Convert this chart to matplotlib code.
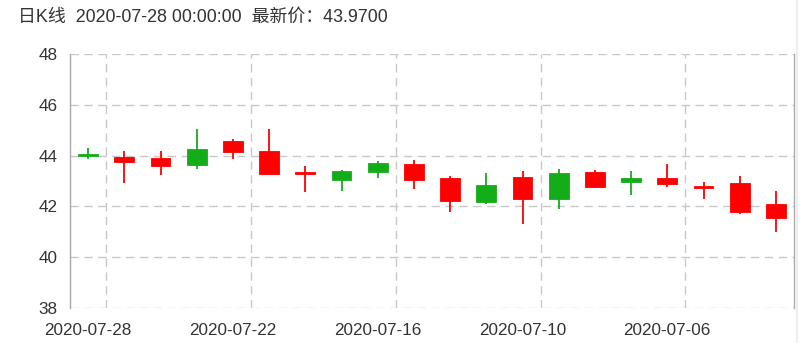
import matplotlib
matplotlib.use("Agg")
import matplotlib.pyplot as plt
from matplotlib.lines import Line2D

plt.rcParams['font.family'] = ['Liberation Sans', 'Noto Sans CJK SC', 'DejaVu Sans']

dates = ["2020-07-28", "2020-07-27", "2020-07-24", "2020-07-23", "2020-07-22",
         "2020-07-21", "2020-07-20", "2020-07-17", "2020-07-16", "2020-07-15",
         "2020-07-14", "2020-07-13", "2020-07-10", "2020-07-09", "2020-07-08",
         "2020-07-07", "2020-07-06", "2020-07-03", "2020-07-02", "2020-07-01"]
open_ = [44.04, 43.76, 43.61, 44.27, 44.14, 43.29, 43.27, 43.41, 43.71, 43.02,
         42.20, 42.85, 42.30, 43.32, 42.76, 43.12, 42.90, 42.72, 41.79, 41.53]
close = [43.97, 43.96, 43.89, 43.64, 44.59, 44.18, 43.36, 43.05, 43.36, 43.65,
         43.10, 42.16, 43.16, 42.30, 43.37, 42.97, 43.12, 42.77, 42.94, 42.09]
high = [44.30, 44.17, 44.20, 45.05, 44.65, 45.05, 43.61, 43.44, 43.78, 43.83,
        43.19, 43.32, 43.40, 43.48, 43.44, 43.41, 43.67, 42.97, 43.19, 42.59]
low = [43.85, 42.91, 43.23, 43.48, 43.87, 43.29, 42.56, 42.60, 43.11, 42.68,
       41.78, 42.11, 41.32, 41.91, 42.72, 42.44, 42.75, 42.30, 41.70, 41.01]
y_ticks = [38, 40, 42, 44, 46, 48]
title = "日K线  2020-07-28 00:00:00  最新价：43.9700"

UP = '#FF0000'
DOWN = '#14AD1A'

W, H = 808, 343
fig = plt.figure(figsize=(W / 100, H / 100), dpi=100)
left, right, top, bottom = 70, 794, 54, 308
ax = fig.add_axes([left / W, 1 - bottom / H, (right - left) / W, (bottom - top) / H])

n = len(dates)
xs = list(range(n))
colors = [UP if c >= o else DOWN for o, c in zip(open_, close)]
bot = [min(o, c) for o, c in zip(open_, close)]
hgt = [max(abs(c - o), 0.08) for o, c in zip(open_, close)]

ax.vlines(xs, low, high, colors=colors, linewidth=1.3, zorder=3)
ax.bar(xs, hgt, bottom=bot, width=0.55, color=colors, edgecolor=colors,
       linewidth=0.6, zorder=4)

ax.set_xlim(-0.5, n - 0.5)
ax.set_ylim(38, 48)
ax.set_yticks(y_ticks)
ax.set_yticklabels([str(t) for t in y_ticks])
lab_idx = [0, 4, 8, 12, 16]
ax.set_xticks(lab_idx)
ax.set_xticklabels([dates[i] for i in lab_idx])
ax.tick_params(axis='both', length=0, labelsize=12.3, colors='#333333')
ax.tick_params(axis='y', pad=9)
ax.tick_params(axis='x', pad=11)

grid_kw = dict(color='#c8c8c8', linewidth=1.0, linestyle=(0, (6, 4)), zorder=1)
for t in y_ticks:
    ax.axhline(t, **grid_kw)
for i in lab_idx:
    ax.axvline(i + 0.5, **grid_kw)

for s in ['top', 'bottom']:
    ax.spines[s].set_visible(False)
ax.spines['left'].set_color('#aaaaaa')
ax.spines['right'].set_color('#aaaaaa')
ax.spines['left'].set_linewidth(1.0)
ax.spines['right'].set_linewidth(1.0)

fig.text(18 / W, 1 - 17 / H, title, fontsize=12.9, color='#333333',
         ha='left', va='center')
fig.add_artist(Line2D([797 / W, 797 / W], [0, 1], color='#eeeeee', linewidth=1.5,
                      transform=fig.transFigure))

fig.savefig('out.png', dpi=100)
